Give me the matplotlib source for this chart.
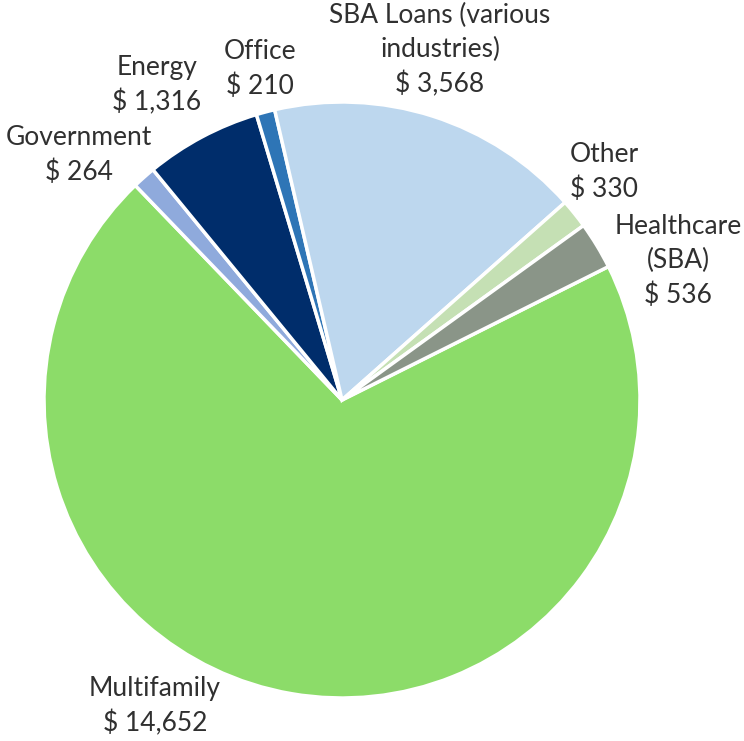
import matplotlib
matplotlib.use("Agg")
import matplotlib.pyplot as plt
from matplotlib import font_manager

categories = ["Multifamily", "Government", "Energy", "Office",
              "SBA Loans (various\nindustries)", "Other", "Healthcare\n(SBA)"]
values = [14652, 264, 1316, 210, 3568, 330, 536]
colors = ["#8CDC69", "#8FAADC", "#002D6B", "#2E75B6", "#BDD7EE", "#C5E0B4", "#8A9588"]

# label centres in figure pixel coordinates (x, y from top)
label_pos = [(155, 706), (79, 155), (157, 85), (260, 69), (440, 50), (604, 172), (678, 261)]

W, H = 744, 741
fig = plt.figure(figsize=(W / 100, H / 100), dpi=100)
ax = fig.add_axes([0, 0, 1, 1])

fams = [f.name for f in font_manager.fontManager.ttflist]
family = "Lato" if "Lato" in fams else "DejaVu Sans"

ax.pie(values, colors=colors, startangle=26.6, counterclock=False,
       center=(342, H - 400), radius=298,
       wedgeprops=dict(edgecolor="white", linewidth=2.5), frame=False)
ax.set_xlim(0, W)
ax.set_ylim(0, H)
ax.set_aspect("equal")
ax.axis("off")

for cat, val, (x, y) in zip(categories, values, label_pos):
    ax.text(x, H - y, f"{cat}\n$ {val:,}", ha="center", va="center",
            fontsize=19, family=family, fontweight="normal", color="#303030",
            linespacing=1.45, multialignment="center")

fig.savefig("out.png", dpi=100)
